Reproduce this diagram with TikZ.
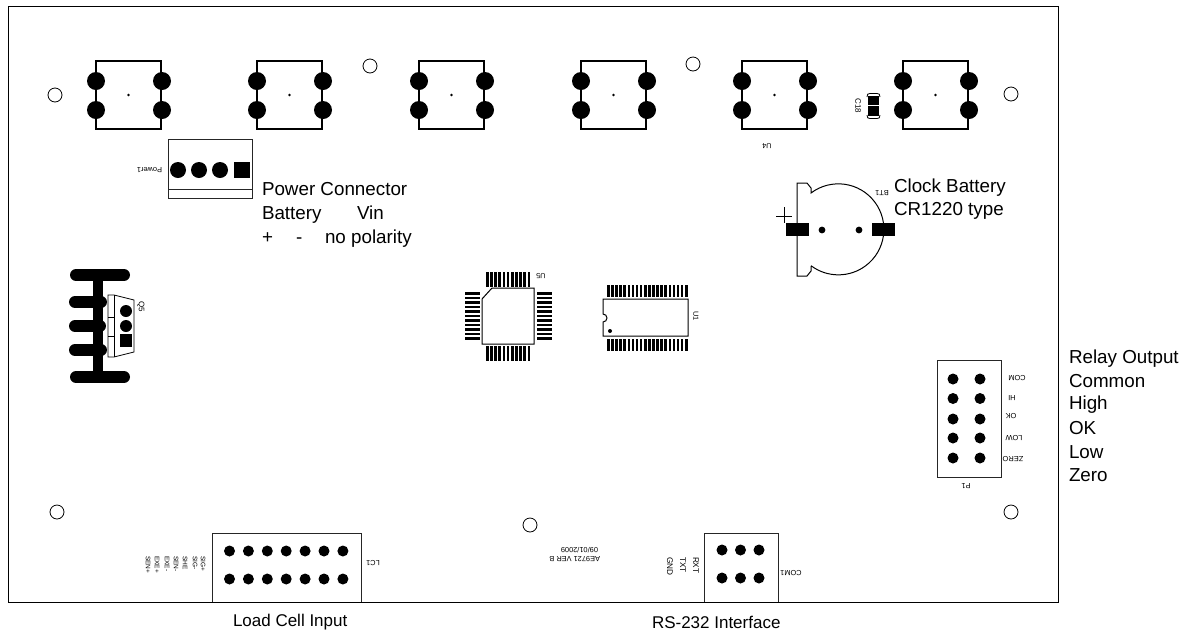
\documentclass[tikz,border=0pt]{standalone}
\usepackage{fontspec}
\setmainfont{Liberation Sans}
\newcommand{\fs}[1]{\fontsize{#1}{#1}\selectfont}
\tikzset{x=1pt,y=-1pt,
  outl/.style={draw=black,line width=1.1pt,fill=none},
  thinout/.style={draw=black!85,line width=0.8pt,fill=none},
  pad/.style={fill=black,draw=none},
  hole/.style={draw=black,line width=0.8pt,fill=white},
  lab/.style={inner sep=0,outer sep=0,anchor=base west,font=\fs{18.8}},
  tiny/.style={inner sep=0,outer sep=0,font=\fs{7.4}},
  flip/.style={tiny,rotate=180},
  down/.style={tiny,rotate=-90},
}
\begin{document}
\begin{tikzpicture}
\useasboundingbox (0,0) rectangle (1187,633);
% board
\node[draw=black,line width=0.8pt,inner sep=0,minimum width=1050pt,minimum height=596pt,anchor=north west] (board) at (7.5,6) {};
% holes
\foreach \n/\hx/\hy in {h1/55/95,h2/370/66,h3/693/64,h4/1011/94,h5/57/512,h6/530/525,h7/1011/512}
  \node[hole,circle,inner sep=0,minimum size=14pt] (\n) at (\hx,\hy) {};
% relays
\foreach \rx in {96,257,419,581,742,903} {
  \draw[outl] (\rx,61) rectangle ++(65,68);
  \foreach \py in {81,110} {\fill[pad] (\rx,\py) circle (9);\fill[pad] (\rx+66,\py) circle (9);}
  \fill[pad] (\rx+32.5,95) circle (1.4);
}
\node[flip] (u4) at (767,146) {U4};
% C18
\fill[pad] (868,96) rectangle (879,105);
\fill[pad] (868,106) rectangle (879,116);
\draw[line width=0.8pt] (867,97) .. controls (867,94) and (868,93.5) .. (870,93.5) -- (877,93.5) .. controls (879,93.5) and (880,94) .. (880,97);
\draw[line width=0.8pt] (867,115) .. controls (867,118) and (868,118.5) .. (870,118.5) -- (877,118.5) .. controls (879,118.5) and (880,118) .. (880,115);
\node[down,font=\fs{8}] (c18) at (858,106) {C18};
% Power connector
\draw[thinout] (168,139.5) rectangle (252,198);
\draw[thinout] (168,189) -- (252,189);
\foreach \px in {178,199,220} \fill[pad] (\px,170) circle (8);
\fill[pad] (234,162) rectangle (250,178);
\node[flip] (pw) at (149.5,170.5) {Power1};
\node[lab] (t1) at (262,195) {Power Connector};
\node[lab] (t2) at (262,219) {Battery};
\node[lab] (t3) at (357,219) {Vin};
\node[lab] (t4) at (262,243) {+};
\node[lab] (t5) at (296,243) {-};
\node[lab] (t6) at (325,243) {no polarity};
% Battery
\draw[line width=1pt] (811,266) -- (811,271) -- (807,276) -- (797,276) -- (797,183) -- (807,183) -- (811,188) -- (811,193)
  arc[start angle=-127,end angle=127,radius=45.5];
\fill[pad] (786,223) rectangle (809,236);
\fill[pad] (872,223) rectangle (895,236);
\fill[pad] (822,230) circle (3.4);
\fill[pad] (859,230) circle (3.4);
\draw[line width=0.8pt] (776,216) -- (792,216) (784,207) -- (784,223);
\node[flip] (bt) at (882,193) {BT1};
\node[lab] (t7) at (894,192) {Clock Battery};
\node[lab] (t8) at (894,215) {CR1220 type};
% Q5
\foreach \qy/\qa/\qb in {275/76/124,302/75/101,326/75/100,350/75/101,377/76/124}
  \draw[line width=12pt,line cap=round] (\qa,\qy) -- (\qb,\qy);
\fill[pad] (93,275) rectangle (103,380);
\draw[line width=0.8pt,fill=white] (108,295) -- (114,295) -- (134,300) -- (134,352) -- (114,357) -- (108,357) -- cycle;
\draw[line width=0.8pt] (114,295) -- (114,357) (108,317) -- (114,317) (108,336) -- (114,336);
\fill[pad] (126,311) circle (6);\fill[pad] (126,326) circle (6);
\fill[pad] (119.5,334) rectangle (132,347);
\node[down,font=\fs{8}] (q5) at (141,307) {Q5};
% U5
\draw[line width=1pt] (492,288) -- (534,288) -- (534,344) -- (482,344) -- (482,299) -- cycle;
\foreach \i in {0,...,10} {
  \fill[pad] (486+\i*4.15,272) rectangle ++(2.6,14.5);
  \fill[pad] (486+\i*4.15,346) rectangle ++(2.6,15);
  \fill[pad] (465,292+\i*4.5) rectangle ++(15,2.8);
  \fill[pad] (537,292+\i*4.5) rectangle ++(14.5,2.8);
}
\node[flip] (u5) at (541,276) {U5};
% U1
\draw[line width=1pt] (603,314) arc[start angle=-90,end angle=90,radius=4] -- (603,336) -- (688,336) -- (688,299) -- (603,299) -- cycle;
\fill[pad] (610,331) circle (2);
\foreach \i in {0,...,19} {
  \fill[pad] (607+\i*4.1,285) rectangle ++(2.6,12);
  \fill[pad] (607+\i*4.1,339) rectangle ++(2.6,12);
}
\node[down] (u1) at (696,316) {U1};
% P1
\draw[thinout] (937,360) rectangle (1001.5,477);
\foreach \py in {379,398.5,419,438,458} {\fill[pad] (953,\py) circle (5.5);\fill[pad] (980,\py) circle (5.5);}
\foreach \n/\lx/\ly/\tx in {pa/1017/378/COM,pb/1012/398/HI,pc/1011/416/OK,pd/1014/438/LOW,pe/1013/459/ZERO}
  \node[flip] (\n) at (\lx,\ly) {\tx};
\node[flip] (p1) at (966,486) {P1};
% Relay labels
\foreach \n/\ly/\tx in {r1/363/Relay Output,r2/387/Common,r3/409/High,r4/434/OK,r5/458/Low,r6/481/Zero}
  \node[lab] (\n) at (1069,\ly) {\tx};
% LC1
\draw[thinout] (212,602) -- (212,533) -- (361,533) -- (361,602);
\foreach \i in {0,...,6} {
  \fill[pad] (229.5+\i*18.9,551) circle (5.5);
  \fill[pad] (229.5+\i*18.9,579) circle (5.5);
}
\foreach \n/\lx/\tx in {s1/148/SEN+,s2/157/EXE+,s3/167/EXE-,s4/176/SEN-,s5/185/SHE,s6/195/SIG-,s7/203/SIG+}
  \node[down,font=\fs{6.5},anchor=west] (\n) at (\lx,556) {\tx};
\node[flip] (lc) at (373,563) {LC1};
\node[lab,font=\fs{17}] (t9) at (233,626) {Load Cell Input};
% COM1
\draw[thinout] (704,602) -- (704,533) -- (778,533) -- (778,602);
\foreach \px in {722,740.5,759} {\fill[pad] (\px,550) circle (5.5);\fill[pad] (\px,578) circle (5.5);}
\foreach \n/\lx/\tx in {g1/696/RXT,g2/683/TXT,g3/670/GND}
  \node[down,font=\fs{8.2},anchor=west] (\n) at (\lx,557) {\tx};
\node[flip] (com) at (791,573) {COM1};
\node[flip,anchor=west] (d1) at (600,559) {AE9721 VER B};
\node[flip,anchor=west] (d2) at (598,550) {09/01/2009};
\node[lab,font=\fs{17}] (t10) at (652,628) {RS-232 Interface};
\end{tikzpicture}
\end{document}
